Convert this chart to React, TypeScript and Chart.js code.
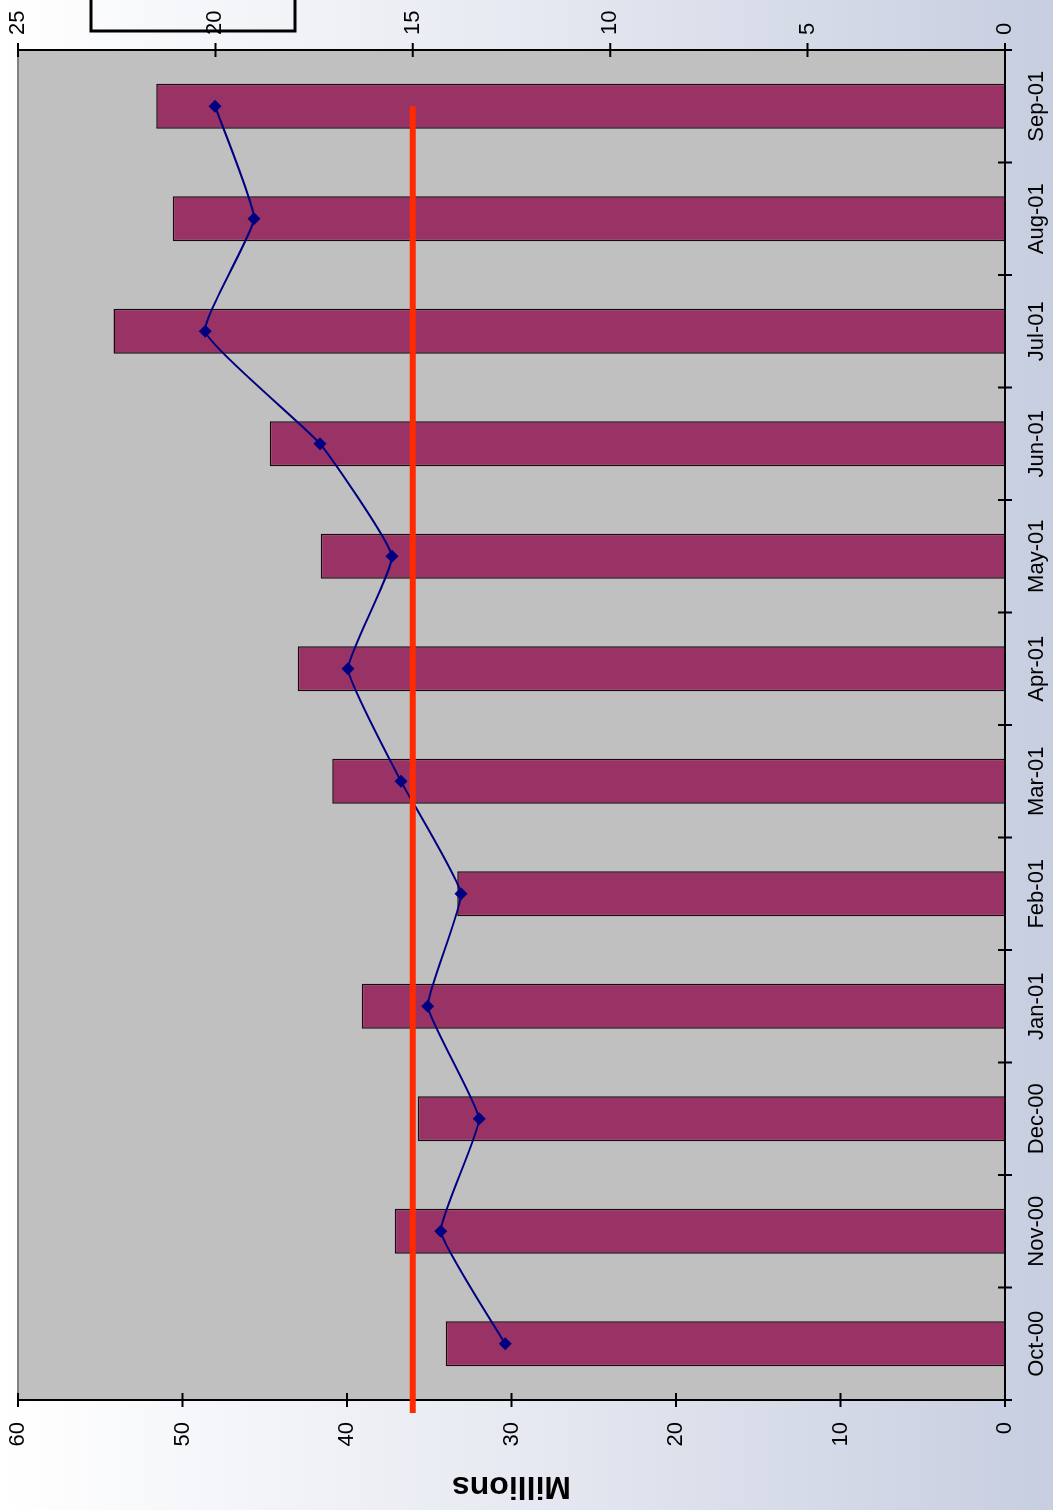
import React, { useEffect, useRef } from 'react';
import { Chart, registerables } from 'chart.js';

Chart.register(...registerables);

// ---- data ----
const categories = ['Oct-00', 'Nov-00', 'Dec-00', 'Jan-01', 'Feb-01', 'Mar-01', 'Apr-01', 'May-01', 'Jun-01', 'Jul-01', 'Aug-01', 'Sep-01'];
const barValuesMillions = [34.0, 37.1, 35.7, 39.1, 33.3, 40.9, 43.0, 41.6, 44.7, 54.2, 50.6, 51.6];
const lineValues = [12.66, 14.29, 13.32, 14.62, 13.78, 15.3, 16.64, 15.53, 17.35, 20.26, 19.02, 20.01];
const targetValue = 15; // on the right-hand axis
const leftAxisMax = 60;
const leftAxisStep = 10;
const rightAxisMax = 25;
const rightAxisStep = 5;
const leftAxisTitle = 'Millions';

// unrotated chart size (the page shows it turned 90° counter-clockwise)
const CW = 1510;
const CH = 1053;
const FONT = "'Liberation Sans', Arial, sans-serif";

export default function App() {
  const ref = useRef<HTMLCanvasElement | null>(null);

  useEffect(() => {
    const canvas = ref.current;
    if (!canvas) return;

    const backgroundPlugin = {
      id: 'backgroundPlugin',
      beforeDraw(chart: any) {
        const { ctx, width, height, chartArea: a } = chart;
        ctx.save();
        const g = ctx.createLinearGradient(0, 0, 0, height);
        g.addColorStop(0, '#ffffff');
        g.addColorStop(0.5, '#e6e9f1');
        g.addColorStop(1, '#c7cee0');
        ctx.fillStyle = g;
        ctx.fillRect(0, 0, width, height);
        // legend frame (cut off at the edge)
        ctx.strokeStyle = '#000';
        ctx.lineWidth = 3;
        ctx.strokeRect(a.right + 19, 91, 100, 204);
        // plot area
        ctx.fillStyle = '#c0c0c0';
        ctx.fillRect(a.left, a.top, a.right - a.left, a.bottom - a.top);
        ctx.strokeStyle = '#808080';
        ctx.lineWidth = 2;
        ctx.strokeRect(a.left, a.top, a.right - a.left, a.bottom - a.top);
        ctx.restore();
      },
    };

    const axesPlugin = {
      id: 'axesPlugin',
      afterDatasetsDraw(chart: any) {
        const { ctx, chartArea: a, scales } = chart;
        const x = scales.x;
        const y = scales.y;
        const y2 = scales.y2;
        ctx.save();
        ctx.strokeStyle = '#000';
        ctx.lineWidth = 2;
        ctx.beginPath();
        ctx.moveTo(a.left, a.top);
        ctx.lineTo(a.left, a.bottom);
        ctx.lineTo(a.right, a.bottom);
        ctx.lineTo(a.right, a.top);
        ctx.stroke();
        const t = 7;
        ctx.beginPath();
        for (let i = 0; i <= categories.length; i++) {
          const px = x.getPixelForValue(i - 0.5);
          ctx.moveTo(px, a.bottom - t);
          ctx.lineTo(px, a.bottom + t);
        }
        for (let v = 0; v <= leftAxisMax; v += leftAxisStep) {
          const py = y.getPixelForValue(v);
          ctx.moveTo(a.left - t, py);
          ctx.lineTo(a.left + t, py);
        }
        for (let v = 0; v <= rightAxisMax; v += rightAxisStep) {
          const py = y2.getPixelForValue(v);
          ctx.moveTo(a.right - t, py);
          ctx.lineTo(a.right + t, py);
        }
        ctx.stroke();
        // target line
        const ty = y2.getPixelForValue(targetValue);
        ctx.strokeStyle = '#ff2a00';
        ctx.lineWidth = 6;
        ctx.beginPath();
        ctx.moveTo(a.left - 13, ty);
        ctx.lineTo(x.getPixelForValue(categories.length - 1), ty);
        ctx.stroke();
        ctx.restore();
      },
    };

    const tickFont = { family: FONT, size: 22 };

    const chart = new Chart(canvas, {
      data: {
        labels: categories,
        datasets: [
          {
            type: 'line',
            data: lineValues,
            yAxisID: 'y2',
            borderColor: '#000080',
            borderWidth: 2,
            tension: 0.12,
            pointStyle: 'rectRot',
            pointRadius: 6.5,
            pointBackgroundColor: '#000080',
            pointBorderColor: '#000080',
            pointBorderWidth: 0,
            order: 0,
          } as any,
          {
            type: 'bar',
            data: barValuesMillions,
            yAxisID: 'y',
            backgroundColor: '#993366',
            borderColor: '#1a0a10',
            borderWidth: 1.5,
            barPercentage: 0.4,
            categoryPercentage: 1,
            order: 1,
          } as any,
        ],
      },
      options: {
        responsive: false,
        animation: false,
        layout: { padding: { top: 18, left: 0, right: 0, bottom: 0 } },
        plugins: {
          legend: { display: false },
          tooltip: { enabled: false },
        },
        scales: {
          x: {
            type: 'category',
            offset: true,
            grid: { display: false, drawTicks: false },
            border: { display: false },
            ticks: { font: tickFont, color: '#000', padding: 19, maxRotation: 0, autoSkip: false },
            afterFit: (s: any) => {
              s.height = 48;
              s.paddingLeft = 0;
              s.paddingRight = 0;
            },
          },
          y: {
            position: 'left',
            min: 0,
            max: leftAxisMax,
            grid: { display: false, drawTicks: false },
            border: { display: false },
            ticks: { stepSize: leftAxisStep, font: tickFont, color: '#000', padding: 22 },
            title: {
              display: true,
              text: leftAxisTitle,
              color: '#000',
              font: { family: FONT, size: 32, weight: 'bold' },
              padding: { top: 5, bottom: 0 },
            },
            afterFit: (s: any) => {
              s.width = 110;
              s.paddingTop = 0;
              s.paddingBottom = 0;
            },
          },
          y2: {
            position: 'right',
            min: 0,
            max: rightAxisMax,
            grid: { display: false, drawTicks: false },
            border: { display: false },
            ticks: { stepSize: rightAxisStep, font: tickFont, color: '#000', padding: 15 },
            afterFit: (s: any) => {
              s.width = 50;
              s.paddingTop = 0;
              s.paddingBottom = 0;
            },
          },
        },
      } as any,
      plugins: [backgroundPlugin, axesPlugin],
    });

    return () => chart.destroy();
  }, []);

  return (
    <div style={{ position: 'fixed', left: 0, top: 0, width: CH, height: CW, overflow: 'hidden' }}>
      <div
        style={{
          position: 'absolute',
          left: 0,
          top: 0,
          width: CW,
          height: CH,
          transformOrigin: '0 0',
          transform: `translate(0px, ${CW}px) rotate(-90deg)`,
        }}
      >
        <canvas ref={ref} width={CW} height={CH} style={{ width: CW, height: CH, display: 'block' }} />
      </div>
    </div>
  );
}
